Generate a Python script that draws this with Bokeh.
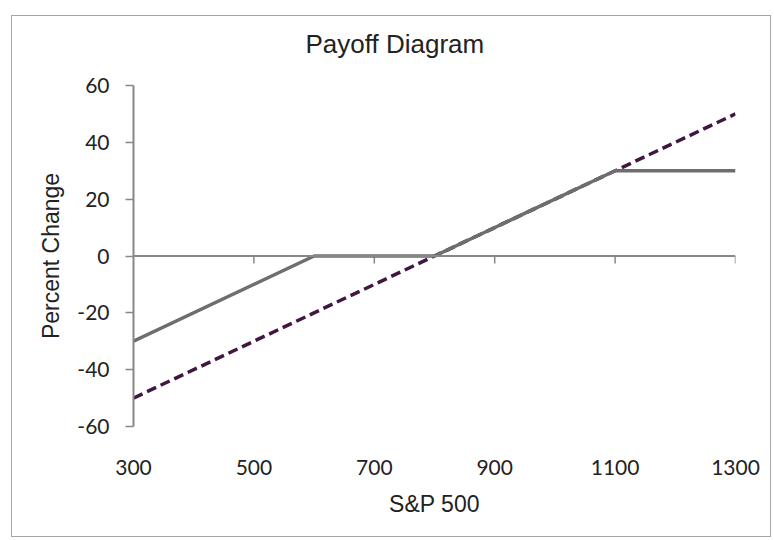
from bokeh.plotting import figure
from bokeh.models import FixedTicker, Span, Range1d, ColumnDataSource, Title
from bokeh.embed import file_html
from bokeh.resources import INLINE

# ---- data ----
sp500 = [300, 600, 800, 1100, 1300]
payoff_pct = [-30, 0, 0, 30, 30]
index_x = [300, 1300]
index_pct = [-50, 50]
x_ticks = [300, 500, 700, 900, 1100, 1300]
y_ticks = [-60, -40, -20, 0, 20, 40, 60]
title_text = "Payoff Diagram"

AXIS_GRAY = "#878787"
TEXT = "#222222"

p = figure(width=760, height=522, output_backend="svg", toolbar_location=None,
           x_range=Range1d(300, 1300), y_range=Range1d(-60, 60),
           min_border_left=121, min_border_right=37,
           min_border_top=69, min_border_bottom=112)
p.styles = {"border": "1px solid #a6a6a6", "margin-left": "11px", "margin-top": "15px"}
p.background_fill_color = "white"
p.border_fill_color = "white"
p.outline_line_color = None
p.grid.visible = False

# spacer between frame and title (blank), then the title itself
p.add_layout(Title(text=" ", text_font_size="10px", standoff=14), "above")
p.add_layout(Title(text=title_text, align="left", offset=172, standoff=0,
                   text_font="Liberation Sans", text_font_size="26px",
                   text_font_style="normal", text_color=TEXT), "above")

# y axis
ya = p.yaxis[0]
ya.ticker = FixedTicker(ticks=y_ticks)
ya.major_label_overrides = {t: str(t) for t in y_ticks}
ya.axis_line_color = AXIS_GRAY
ya.axis_line_width = 2
ya.major_tick_line_color = AXIS_GRAY
ya.major_tick_line_width = 1.5
ya.major_tick_out = 8
ya.major_tick_in = 0
ya.minor_tick_line_color = None
ya.major_label_standoff = 16
ya.major_label_text_font = "Lato"
ya.major_label_text_font_size = "21px"
ya.major_label_text_color = TEXT
ya.axis_label = "Percent Change"
ya.axis_label_text_font = "Liberation Sans"
ya.axis_label_text_font_size = "23px"
ya.axis_label_text_font_style = "normal"
ya.axis_label_text_color = TEXT
ya.axis_label_standoff = 10

# x axis: labels only (the axis line is drawn at y = 0)
xa = p.xaxis[0]
xa.ticker = FixedTicker(ticks=x_ticks)
xa.axis_line_color = None
xa.major_tick_line_color = None
xa.minor_tick_line_color = None
xa.major_label_standoff = 27
xa.major_label_text_font = "Lato"
xa.major_label_text_font_size = "21px"
xa.major_label_text_color = TEXT
xa.axis_label = "S&P 500"
xa.axis_label_text_font = "Liberation Sans"
xa.axis_label_text_font_size = "23px"
xa.axis_label_text_font_style = "normal"
xa.axis_label_text_color = TEXT
xa.axis_label_standoff = 13

# horizontal axis line at zero with downward tick marks
p.add_layout(Span(location=0, dimension="width", line_color=AXIS_GRAY, line_width=2))
tick_src = ColumnDataSource(dict(x=x_ticks[1:], y0=[0] * (len(x_ticks) - 1),
                                 y1=[-2.6] * (len(x_ticks) - 1)))
p.segment(x0="x", y0="y0", x1="x", y1="y1", source=tick_src,
          line_color=AXIS_GRAY, line_width=1.5)

# series
p.line(index_x, index_pct, line_color="#3f1740", line_width=3.5, line_dash="10 5")
p.line(sp500, payoff_pct, line_color="#6e6e6e", line_width=3.5)

open("out.html", "w").write(file_html(p, INLINE))
